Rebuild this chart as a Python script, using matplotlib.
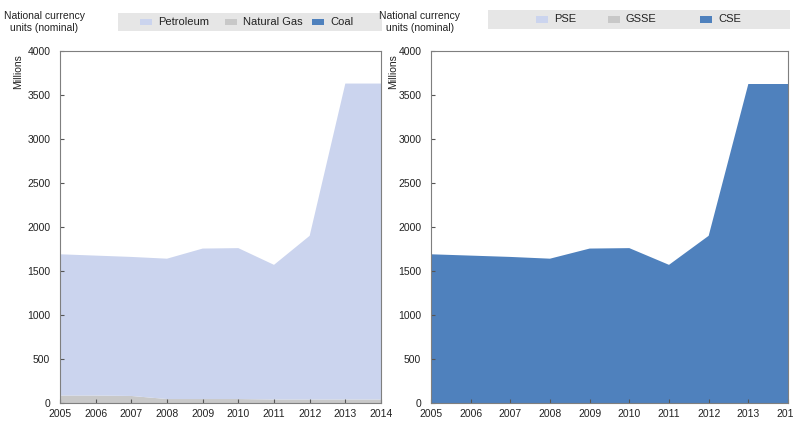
import matplotlib
matplotlib.use("Agg")
import matplotlib.pyplot as plt
from matplotlib.patches import Rectangle

plt.rcParams["font.family"] = ["Liberation Sans", "DejaVu Sans"]

years = [2005, 2006, 2007, 2008, 2009, 2010, 2011, 2012, 2013, 2014]

# left panel: support by fuel
natural_gas = [85, 85, 80, 45, 45, 45, 40, 40, 40, 40]
petroleum = [1605, 1590, 1580, 1595, 1710, 1715, 1530, 1860, 3590, 3590]
coal = [0, 0, 0, 0, 0, 0, 0, 0, 0, 0]

# right panel: support by indicator
pse = [0, 0, 0, 0, 0, 0, 0, 0, 0, 0]
gsse = [0, 0, 0, 0, 0, 0, 0, 0, 0, 0]
cse = [1690, 1675, 1660, 1640, 1755, 1760, 1570, 1900, 3625, 3625]

left_labels = ["Petroleum", "Natural Gas", "Coal"]
right_labels = ["PSE", "GSSE", "CSE"]
colors = ["#cbd4ee", "#c8c8c8", "#4f81bd"]

W, H = 793, 422
fig = plt.figure(figsize=(W / 100, H / 100), dpi=100)


def px(x0, y0, x1, y1):
    # pixel box (top-left origin) -> figure fraction rect
    return [x0 / W, 1 - y1 / H, (x1 - x0) / W, (y1 - y0) / H]


def style_axes(ax):
    ax.set_xlim(2005, 2014)
    ax.set_ylim(0, 4000)
    ax.set_xticks(years)
    ax.set_yticks(range(0, 4001, 500))
    ax.tick_params(direction="in", length=3, width=0.8, colors="#555555",
                   labelcolor="#222222", labelsize=7.5)
    ax.tick_params(axis="x", pad=4)
    ax.tick_params(axis="y", pad=7)
    for s in ax.spines.values():
        s.set_color("#7f7f7f")
        s.set_linewidth(0.8)


def draw_legend(x0, y0, x1, y1, labels, item_x):
    fig.patches.append(Rectangle((x0 / W, 1 - y1 / H), (x1 - x0) / W, (y1 - y0) / H,
                                 transform=fig.transFigure, facecolor="#e6e6e6",
                                 edgecolor="none"))
    yc = (y0 + y1) / 2
    for lab, col, xi in zip(labels, colors, item_x):
        fig.patches.append(Rectangle((xi / W, 1 - (yc + 3) / H), 12 / W, 6 / H,
                                     transform=fig.transFigure, facecolor=col,
                                     edgecolor="none"))
        fig.text((xi + 18) / W, 1 - yc / H, lab, fontsize=8, color="#222222",
                 ha="left", va="center")


# left panel
ax1 = fig.add_axes(px(60, 51, 381, 403))
ax1.stackplot(years, natural_gas, petroleum, coal,
              colors=[colors[1], colors[0], colors[2]], linewidth=0)
style_axes(ax1)
fig.text(44 / W, 1 - 22 / H, "National currency\nunits (nominal)", fontsize=7.5,
         ha="center", va="center", color="#222222", linespacing=1.3)
fig.text(18 / W, 1 - 72 / H, "Millions", rotation=90, fontsize=7.5,
         ha="center", va="center", color="#222222")
draw_legend(118, 13, 382, 31, left_labels, [140, 225, 312])

# right panel
ax2 = fig.add_axes(px(431, 51, 788, 403))
ax2.stackplot(years, pse, gsse, cse, colors=colors, linewidth=0)
style_axes(ax2)
fig.text(420 / W, 1 - 22 / H, "National currency\nunits (nominal)", fontsize=7.5,
         ha="center", va="center", color="#222222", linespacing=1.3)
fig.text(393 / W, 1 - 72 / H, "Millions", rotation=90, fontsize=7.5,
         ha="center", va="center", color="#222222")
draw_legend(488, 10, 790, 29, right_labels, [536, 608, 700])

fig.savefig("out.png", dpi=100)
